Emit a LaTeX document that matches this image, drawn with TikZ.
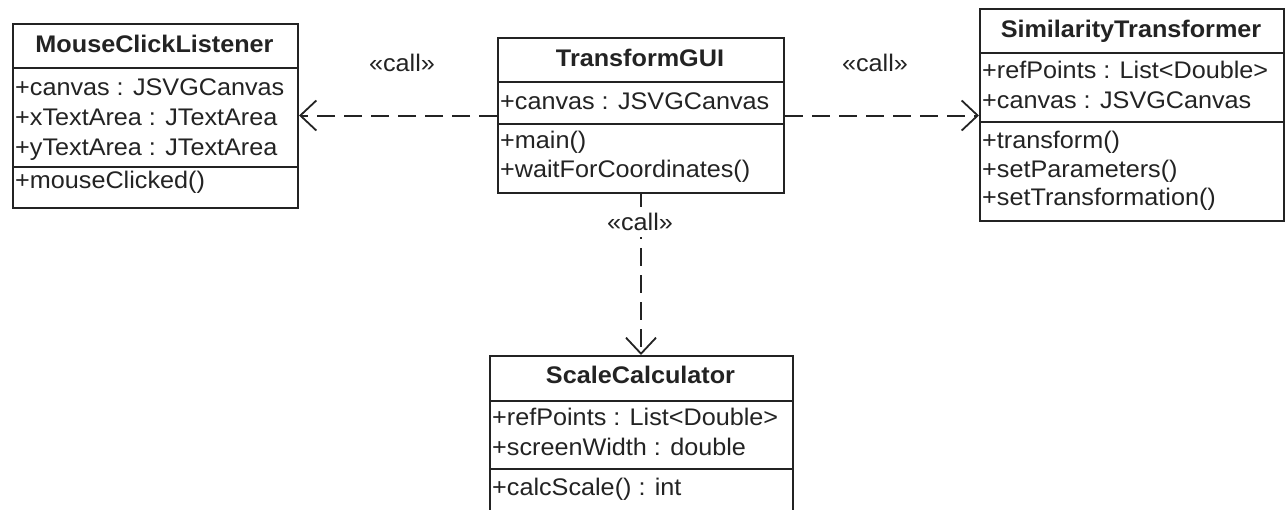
\documentclass[tikz,border=0pt]{standalone}
\usepackage{fontspec}
\setmainfont{Liberation Sans}[FakeStretch=1.05]
\usetikzlibrary{arrows.meta}
\definecolor{linec}{RGB}{35,35,35}
\definecolor{textc}{RGB}{35,35,35}
\tikzset{
  classbox/.style={draw=linec, line width=2pt, fill=white, inner sep=0pt, anchor=north west},
  sepline/.style={draw=linec, line width=2pt},
  txt/.style={anchor=base west, inner sep=0pt, text=textc, font=\fontsize{24}{29}\selectfont},
  hdr/.style={anchor=base, inner sep=0pt, text=textc, font=\fontsize{24}{29}\selectfont\bfseries},
  lbl/.style={inner sep=2pt, text=textc, font=\fontsize{24}{29}\selectfont},
  dep/.style={draw=linec, line width=2pt, dash pattern=on 18pt off 9pt,
    -{Straight Barb[length=16pt,width=30pt,line width=1.8pt]}},
}
\begin{document}
\begin{tikzpicture}[x=1pt,y=-1pt]
\useasboundingbox (0,0) rectangle (1288,509);
\clip (0,0) rectangle (1288,509);

% MouseClickListener
\node[classbox, minimum width=285pt, minimum height=184pt] (mcl) at (12,23) {};
\draw[sepline] (mcl.west |- 0,68) -- (mcl.east |- 0,68);
\draw[sepline] (mcl.west |- 0,167) -- (mcl.east |- 0,167);
\node[hdr] (mclh) at (154.5,52) {MouseClickListener};
\node[txt] (mcla1) at (15,95) {+canvas : JSVGCanvas};
\node[txt] (mcla2) at (15,125) {+xTextArea : JTextArea};
\node[txt] (mcla3) at (15,155) {+yTextArea : JTextArea};
\node[txt] (mclo1) at (15,188) {+mouseClicked()};

% TransformGUI
\node[classbox, minimum width=286pt, minimum height=155pt] (tgui) at (497,37) {};
\draw[sepline] (tgui.west |- 0,82) -- (tgui.east |- 0,82);
\draw[sepline] (tgui.west |- 0,124) -- (tgui.east |- 0,124);
\node[hdr] (tguih) at (640,66) {TransformGUI};
\node[txt] (tguia1) at (500,109) {+canvas : JSVGCanvas};
\node[txt] (tguio1) at (500,148) {+main()};
\node[txt] (tguio2) at (500,177) {+waitForCoordinates()};

% SimilarityTransformer
\node[classbox, minimum width=304pt, minimum height=212pt] (st) at (979,8) {};
\draw[sepline] (st.west |- 0,53) -- (st.east |- 0,53);
\draw[sepline] (st.west |- 0,122) -- (st.east |- 0,122);
\node[hdr] (sth) at (1131,37) {SimilarityTransformer};
\node[txt] (sta1) at (982,78) {+refPoints : List<Double>};
\node[txt] (sta2) at (982,108) {+canvas : JSVGCanvas};
\node[txt] (sto1) at (982,148) {+transform()};
\node[txt] (sto2) at (982,177) {+setParameters()};
\node[txt] (sto3) at (982,205) {+setTransformation()};

% ScaleCalculator
\node[classbox, minimum width=303pt, minimum height=162pt] (sc) at (489,355) {};
\draw[sepline] (sc.west |- 0,401) -- (sc.east |- 0,401);
\draw[sepline] (sc.west |- 0,469) -- (sc.east |- 0,469);
\node[hdr] (sch) at (640.5,383) {ScaleCalculator};
\node[txt] (sca1) at (492,425) {+refPoints : List<Double>};
\node[txt] (sca2) at (492,455) {+screenWidth : double};
\node[txt] (sco1) at (492,495) {+calcScale() : int};

% dependencies
\draw[dep] (tgui.west) -- (tgui.west -| mcl.east);
\draw[dep] (tgui.east) -- (tgui.east -| st.west);
\draw[dep] (tgui.south) -- (tgui.south |- sc.north);

\node[lbl] (l1) at (402,63) {«call»};
\node[lbl] (l2) at (875,63) {«call»};
\node[lbl, fill=white, inner ysep=6pt] (l3) at (640,222) {«call»};
\end{tikzpicture}
\end{document}
